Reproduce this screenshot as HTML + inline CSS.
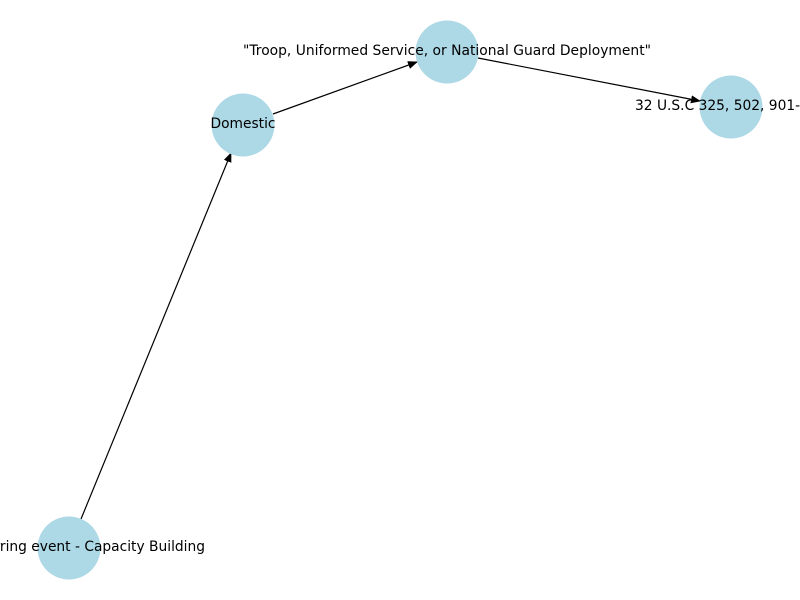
<!DOCTYPE html>
<html><head><meta charset="utf-8"><style>html,body{margin:0;padding:0;background:#fff;overflow:hidden}svg{display:block}</style></head>
<body>
<svg width="800" height="600" viewBox="0 0 800 600" xmlns="http://www.w3.org/2000/svg">
<defs>
<marker id="a" markerWidth="10" markerHeight="8" refX="9" refY="4" orient="auto" markerUnits="userSpaceOnUse">
<path d="M0,0 L10,4 L0,8 z" fill="#000"/>
</marker>
</defs>
<g stroke="#000" stroke-width="1.2" fill="none">
<line x1="81" y1="519" x2="231" y2="153" marker-end="url(#a)"/>
<line x1="273" y1="114" x2="417" y2="62" marker-end="url(#a)"/>
<line x1="478" y1="58" x2="700" y2="101" marker-end="url(#a)"/>
</g>
<g fill="#add8e6">
<circle cx="447" cy="52" r="31.5"/>
<circle cx="243" cy="125" r="31.5"/>
<circle cx="731" cy="107" r="31.5"/>
<circle cx="69" cy="548" r="31.5"/>
</g>
<g font-family="DejaVu Sans, Liberation Sans, sans-serif" font-size="13.8" fill="#000" dominant-baseline="central">
<text x="447" y="51" text-anchor="middle" textLength="408" lengthAdjust="spacingAndGlyphs">"Troop, Uniformed Service, or National Guard Deployment"</text>
<text x="243" y="124" text-anchor="middle">Domestic</text>
<text x="635" y="106">32 U.S.C 325, 502, 901-904</text>
<text x="205" y="547" text-anchor="end">Recurring event - Capacity Building</text>
</g>
</svg>
</body></html>
